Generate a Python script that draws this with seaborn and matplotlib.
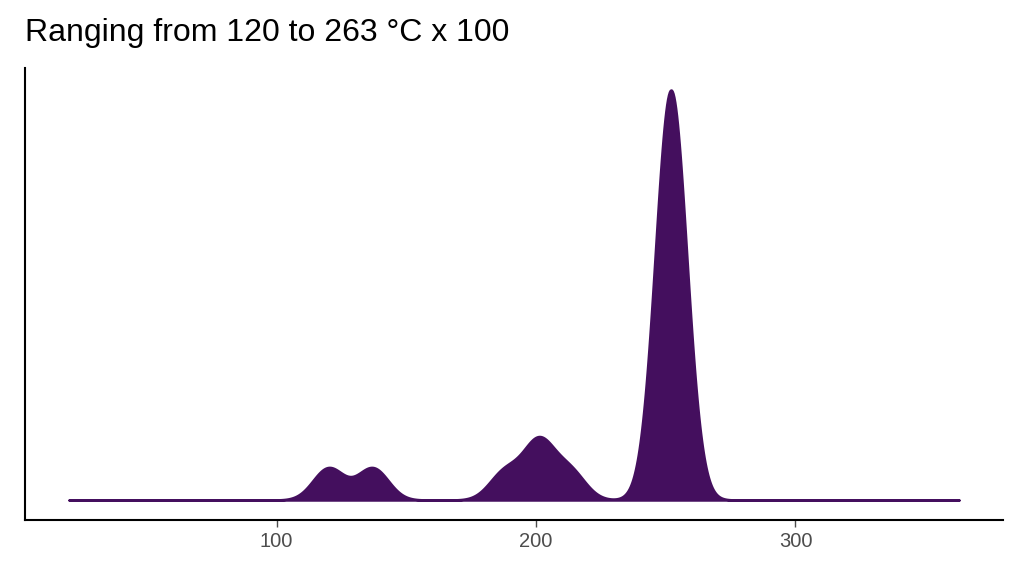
import numpy as np
import seaborn as sns
import matplotlib
matplotlib.use("Agg")
import matplotlib.pyplot as plt

# peak positions (°C x 100 scale) and relative weights
peak_x = [120, 137, 188, 201, 213, 252]
peak_w = [32, 32, 28, 57, 28, 410]
x_ticks = [100, 200, 300]
x_range = (20, 363)
title = "Ranging from 120 to 263 °C x 100"

sns.set_theme(style="white")
plt.rcParams['font.family'] = ['Liberation Sans', 'DejaVu Sans']
fig = plt.figure(figsize=(10.24, 5.76), dpi=100)
ax = fig.add_axes([25/1024, 56/576, 978/1024, 452/576])

sd = np.sqrt(np.cov(peak_x, aweights=peak_w))
color = "#440F5E"
sns.kdeplot(x=peak_x, weights=peak_w, bw_method=6.0/sd, fill=True, cut=60,
            clip=x_range, gridsize=1000, color=color, alpha=1, linewidth=1.8, ax=ax)
peak = max(c.get_paths()[0].vertices[:, 1].max() for c in ax.collections)
ax.set_ylim(-20/410*peak, 432/410*peak)
ax.set_xlim(3, 380)
ax.set_xticks(x_ticks)
ax.set_yticks([])
ax.set_xlabel(""); ax.set_ylabel("")
for s in ["top", "right"]:
    ax.spines[s].set_visible(False)
for s in ["left", "bottom"]:
    ax.spines[s].set_color("black"); ax.spines[s].set_linewidth(1.5)
ax.tick_params(axis="x", colors="#4D4D4D", labelsize=14.5, length=5, width=1, bottom=True)
fig.text(25/1024, 1-33/576, title, fontsize=23, va="center", ha="left", color="black")
fig.savefig("out.png", dpi=100)
